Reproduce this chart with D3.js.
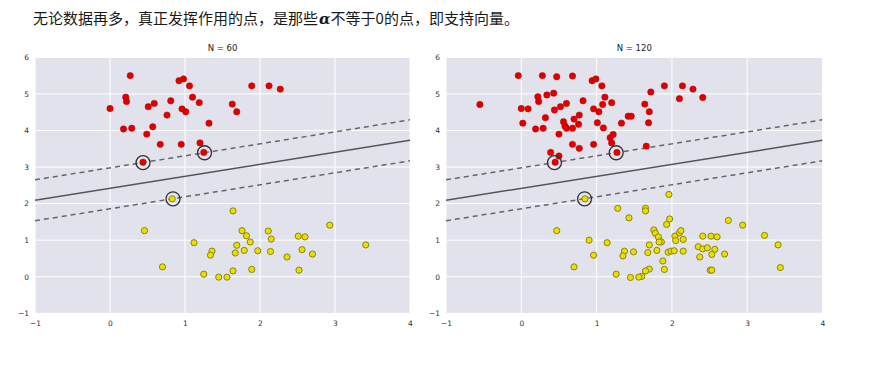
<!DOCTYPE html>
<html><head><meta charset="utf-8">
<script src="https://cdn.jsdelivr.net/npm/d3@7"></script>
<style>
body{margin:0;background:#fff;}
svg{display:block;}
</style></head>
<body>
<svg id="chart" width="878" height="386"></svg>
<script>
const headlineParts = ["无论数据再多，真正发挥作用的点，是那些", "α", "不等于0的点，即支持向量。"];
const xTicks = [-1, 0, 1, 2, 3, 4];
const yTicks = [-1, 0, 1, 2, 3, 4, 5, 6];
const titles = ["N = 60", "N = 120"];

// decision line (solid) and margins (dashed): y at x=-1 and x=4
const lineX = [-1, 4];
const solidY = [2.09, 3.73];
const upperY = [2.65, 4.29];
const lowerY = [1.53, 3.17];

// support vectors [x, y]
const supportVectors = [[0.44, 3.12], [1.26, 3.39], [0.84, 2.13]];

// N = 60
const red60 = [
 [0.0,4.6],[0.27,5.5],[0.21,4.91],[0.22,4.79],[0.18,4.04],[0.29,4.06],[0.51,4.65],[0.59,4.74],
 [0.57,4.10],[0.49,3.90],[0.67,3.62],[0.44,3.13],[0.76,4.42],[0.81,4.81],[0.92,5.36],[0.98,5.41],
 [1.06,5.22],[1.10,4.91],[0.96,4.59],[1.01,4.51],[1.19,4.76],[1.32,4.20],[0.95,3.62],[1.20,3.66],
 [1.25,3.40],[1.89,5.22],[2.12,5.22],[2.27,5.13],[1.63,4.72],[1.69,4.51]
];
const yellow60 = [
 [0.83,2.13],[0.46,1.26],[0.70,0.27],[1.12,0.93],[1.36,0.70],[1.34,0.59],[1.25,0.07],[1.45,-0.01],
 [1.64,1.80],[1.56,-0.01],[1.64,0.16],[1.67,0.65],[1.69,0.86],[1.76,1.26],[1.82,1.12],[1.87,0.95],
 [1.79,0.72],[1.89,0.20],[1.97,0.71],[2.11,1.25],[2.15,1.03],[2.14,0.69],[2.36,0.54],[2.51,1.11],
 [2.60,1.09],[2.56,0.74],[2.70,0.62],[2.52,0.18],[2.93,1.41],[3.41,0.87]
];

// N = 120
const red120 = [
 [-0.55,4.71],[-0.04,5.50],[0.0,4.60],[0.09,4.59],[0.02,4.20],[0.19,4.04],[0.29,4.06],[0.28,5.50],
 [0.47,5.47],[0.68,5.49],[0.22,4.92],[0.23,4.79],[0.34,4.97],[0.43,5.02],[0.32,4.35],[0.44,4.56],
 [0.52,4.65],[0.60,4.74],[0.56,4.24],[0.58,4.12],[0.60,4.06],[0.50,3.90],[0.68,4.06],[0.70,4.31],
 [0.77,4.42],[0.76,4.17],[0.82,4.81],[0.68,3.62],[0.77,3.51],[0.39,3.40],[0.50,3.30],[0.45,3.13],
 [0.94,5.36],[0.99,5.41],[1.07,5.22],[1.11,4.91],[1.20,4.76],[1.08,4.71],[0.96,4.59],[1.03,4.51],
 [1.01,4.21],[1.09,4.07],[1.33,4.20],[1.42,4.39],[1.46,4.39],[0.96,3.62],[1.18,3.80],[1.22,3.89],
 [1.20,3.66],[1.27,3.40],[1.72,5.05],[1.90,5.22],[2.14,5.22],[2.28,5.13],[2.10,4.87],[2.41,4.90],
 [1.64,4.72],[1.70,4.51],[1.69,4.21],[1.66,3.57]
];
const yellow120 = [
 [0.845,2.13],[0.47,1.26],[0.70,0.27],[0.90,1.00],[0.96,0.59],[1.14,0.93],[1.37,0.70],[1.35,0.57],
 [1.26,0.07],[1.28,1.87],[1.43,1.61],[1.45,-0.02],
 [1.96,2.25],[1.65,1.87],[1.65,1.80],[1.97,1.58],[1.93,1.43],[1.76,1.28],[1.78,1.19],[1.82,1.09],
 [1.86,0.95],[1.83,0.95],[1.70,0.87],[1.80,0.72],[1.68,0.66],[1.49,0.68],[1.88,0.43],[1.90,0.20],
 [1.70,0.21],[1.65,0.16],[1.60,0.01],[1.56,-0.01],[1.95,0.67],[1.99,0.70],[2.03,0.71],[2.04,1.11],
 [2.05,0.99],[2.10,1.20],[2.12,1.26],[2.15,1.02],[2.15,0.70],[2.41,1.11],[2.52,1.11],[2.60,1.09],
 [2.35,0.82],[2.41,0.76],[2.47,0.79],[2.57,0.75],[2.53,0.61],[2.37,0.54],[2.70,0.62],[2.51,0.18],
 [2.53,0.18],[2.75,1.54],[2.94,1.41],[3.23,1.13],[3.41,0.87],[3.44,0.25]
];

const svg = d3.select("#chart");

const head = svg.append("text")
  .attr("x", 33).attr("y", 23.5)
  .attr("font-family", "'Noto Sans CJK SC', sans-serif")
  .attr("font-size", 15)
  .attr("fill", "#1a1a1a");
head.append("tspan").text(headlineParts[0]);
head.append("tspan").attr("font-family", "'DejaVu Serif', serif").attr("font-style", "italic")
  .attr("font-weight", "bold").attr("dx", 1).text(headlineParts[1]);
head.append("tspan").text(headlineParts[2]);

const panels = [
  {title: titles[0], red: red60, yellow: yellow60, x0: 35, x1: 410},
  {title: titles[1], red: red120, yellow: yellow120, x0: 446, x1: 822.5}
];
const plotTop = 57.3, plotBottom = 313.3;

panels.forEach(p => {
  const x = d3.scaleLinear().domain([-1, 4]).range([p.x0, p.x1]);
  const y = d3.scaleLinear().domain([-1, 6]).range([plotBottom, plotTop]);
  const g = svg.append("g");

  g.append("rect").attr("x", p.x0).attr("y", plotTop)
    .attr("width", p.x1 - p.x0).attr("height", plotBottom - plotTop)
    .attr("fill", "#e2e2ed");

  // grid
  g.selectAll(".gx").data(xTicks).enter().append("line")
    .attr("x1", d => x(d)).attr("x2", d => x(d)).attr("y1", plotTop).attr("y2", plotBottom)
    .attr("stroke", "#fff").attr("stroke-width", 1);
  g.selectAll(".gy").data(yTicks).enter().append("line")
    .attr("y1", d => y(d)).attr("y2", d => y(d)).attr("x1", p.x0).attr("x2", p.x1)
    .attr("stroke", "#fff").attr("stroke-width", 1);

  // axes
  const ax = g.append("g").attr("transform", `translate(0,${plotBottom})`)
    .call(d3.axisBottom(x).tickValues(xTicks).tickFormat(d3.format("d")).tickSize(0).tickPadding(6));
  const ay = g.append("g").attr("transform", `translate(${p.x0},0)`)
    .call(d3.axisLeft(y).tickValues(yTicks).tickFormat(d3.format("d")).tickSize(0).tickPadding(6));
  [ax, ay].forEach(a => {
    a.select(".domain").remove();
    a.selectAll("text").attr("font-family", "'DejaVu Sans', sans-serif")
      .attr("font-size", 7.5).attr("fill", "#333");
  });
  ax.selectAll("text").attr("dy", "0.9em");

  g.append("text").attr("x", (p.x0 + p.x1) / 2).attr("y", 51)
    .attr("text-anchor", "middle")
    .attr("font-family", "'DejaVu Sans', sans-serif").attr("font-size", 8.5)
    .attr("fill", "#222").text(p.title);

  const clip = "clip" + Math.round(p.x0);
  svg.append("clipPath").attr("id", clip).append("rect")
    .attr("x", p.x0).attr("y", plotTop).attr("width", p.x1 - p.x0).attr("height", plotBottom - plotTop);
  const inner = g.append("g").attr("clip-path", `url(#${clip})`);

  const line = d3.line().x(d => x(d[0])).y(d => y(d[1]));
  const mk = ys => lineX.map((v, i) => [v, ys[i]]);
  inner.append("path").attr("d", line(mk(solidY))).attr("fill", "none")
    .attr("stroke", "#555").attr("stroke-width", 1.5);
  [upperY, lowerY].forEach(ys => {
    inner.append("path").attr("d", line(mk(ys))).attr("fill", "none")
      .attr("stroke", "#666").attr("stroke-width", 1.5).attr("stroke-dasharray", "5,4");
  });

  inner.selectAll(".r").data(p.red).enter().append("circle")
    .attr("cx", d => x(d[0])).attr("cy", d => y(d[1])).attr("r", 3.2)
    .attr("fill", "#dd0000").attr("stroke", "#c00000").attr("stroke-width", 0.5);
  inner.selectAll(".yl").data(p.yellow).enter().append("circle")
    .attr("cx", d => x(d[0])).attr("cy", d => y(d[1])).attr("r", 3.1)
    .attr("fill", "#e8e000").attr("stroke", "#8c8410").attr("stroke-width", 1);

  inner.selectAll(".sv").data(supportVectors).enter().append("circle")
    .attr("cx", d => x(d[0])).attr("cy", d => y(d[1])).attr("r", 7)
    .attr("fill", "none").attr("stroke", "#333").attr("stroke-width", 1.3);
});
</script>
</body></html>
